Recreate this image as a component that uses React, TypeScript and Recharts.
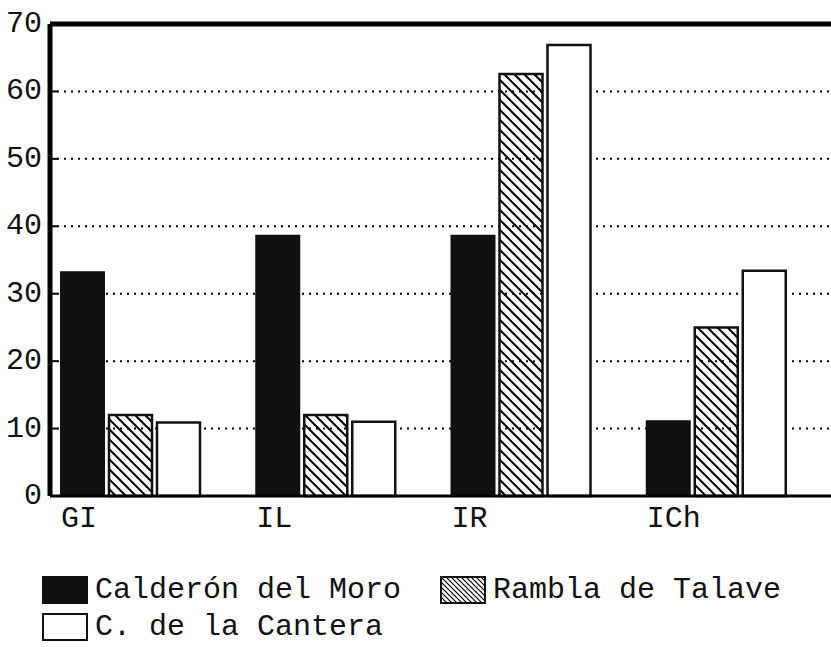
import React from 'react';
import { BarChart, Bar, XAxis, YAxis, CartesianGrid, ReferenceLine } from 'recharts';

const categories = ['GI', 'IL', 'IR', 'ICh'];
const calderon = [33.2, 38.6, 38.6, 11.1];
const rambla = [12.0, 12.0, 62.6, 25.0];
const cantera = [10.9, 11.0, 66.9, 33.4];
const yTicks = [0, 10, 20, 30, 40, 50, 60, 70];
const seriesNames = ['Calderón del Moro', 'Rambla de Talave', 'C. de la Cantera'];

const data = categories.map((c, i) => ({
  cat: c,
  calderon: calderon[i],
  rambla: rambla[i],
  cantera: cantera[i],
}));

const FONT = '"Liberation Mono", "DejaVu Sans Mono", monospace';
const W = 831;
const H = 647;
const BAND = (W - 50) / categories.length;

const YTick = (props: any) => {
  const { x, y, payload } = props;
  return (
    <g>
      <line x1={50} x2={58} y1={y} y2={y} stroke="#000" strokeWidth={2} />
      <text x={x} y={y} dy={8} textAnchor="end" fontFamily={FONT} fontSize={30} fill="#111">
        {payload.value}
      </text>
    </g>
  );
};

const XTick = (props: any) => {
  const { x, y, payload } = props;
  return (
    <text x={x - BAND / 2 + 11} y={y} dy={23} textAnchor="start" fontFamily={FONT} fontSize={30} fill="#111">
      {payload.value}
    </text>
  );
};

const Swatch = ({ kind }: { kind: number }) => (
  <svg width={46} height={28} style={{ display: 'block' }}>
    <defs>
      <pattern id="hatchSmall" patternUnits="userSpaceOnUse" width={5} height={5}>
        <path d="M0,0 L5,5 M-1,4 L1,6 M4,-1 L6,1" stroke="#000" strokeWidth={1.2} />
      </pattern>
    </defs>
    <rect
      x={1}
      y={1}
      width={44}
      height={26}
      fill={kind === 0 ? '#111' : kind === 1 ? 'url(#hatchSmall)' : '#fff'}
      stroke="#111"
      strokeWidth={2}
    />
  </svg>
);

const LegendItem = ({ kind, left, top }: { kind: number; left: number; top: number }) => (
  <div style={{ position: 'absolute', left, top, display: 'flex', alignItems: 'center' }}>
    <Swatch kind={kind} />
    <span style={{ fontFamily: FONT, fontSize: 30, color: '#111', marginLeft: 7, lineHeight: '30px', whiteSpace: 'pre' }}>
      {seriesNames[kind]}
    </span>
  </div>
);

export default function App() {
  return (
    <div style={{ position: 'absolute', left: 0, top: 0, width: W, height: H, background: '#fff' }}>
      <BarChart
        width={W}
        height={H}
        data={data}
        margin={{ top: 24, right: 0, left: 0, bottom: 111 }}
        barGap={5}
      >
        <defs>
          <pattern id="hatch" patternUnits="userSpaceOnUse" width={10} height={10}>
            <path d="M0,0 L10,10 M-2,8 L2,12 M8,-2 L12,2" stroke="#000" strokeWidth={2} />
          </pattern>
        </defs>
        <CartesianGrid vertical={false} stroke="#000" strokeWidth={2} strokeDasharray="2 5" />
        <XAxis
          dataKey="cat"
          height={40}
          tickLine={false}
          axisLine={{ stroke: '#000', strokeWidth: 3 }}
          tick={<XTick />}
          interval={0}
        />
        <YAxis
          width={50}
          domain={[0, 70]}
          ticks={yTicks}
          interval={0}
          tickLine={false}
          axisLine={{ stroke: '#000', strokeWidth: 5 }}
          tick={<YTick />}
        />
        <ReferenceLine y={70} stroke="#000" strokeWidth={5} />
        <Bar dataKey="calderon" barSize={43} fill="#111" stroke="#111" strokeWidth={2} isAnimationActive={false} />
        <Bar dataKey="rambla" barSize={43} fill="url(#hatch)" stroke="#111" strokeWidth={2.5} isAnimationActive={false} />
        <Bar dataKey="cantera" barSize={43} fill="#fff" stroke="#111" strokeWidth={2.5} isAnimationActive={false} />
        <Bar dataKey="pad" barSize={29} fill="none" isAnimationActive={false} />
      </BarChart>
      <LegendItem kind={0} left={42} top={575} />
      <LegendItem kind={1} left={440} top={575} />
      <LegendItem kind={2} left={42} top={612} />
    </div>
  );
}
